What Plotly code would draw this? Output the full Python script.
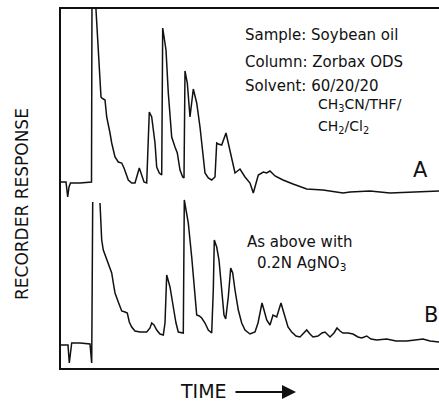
import plotly.graph_objects as go

# ---- data (time units ~ chart width, response units ~ chart height) ----
# Trace A (upper chromatogram) : recorder pen positions
A_PX = [61, 66, 67.7, 69, 70.5, 80, 91.5, 92, 96, 96, 101, 101.7, 105, 106.7, 110, 111.7, 115, 118.3, 121.7,
        124, 128.3, 131.7, 135, 139.3, 144, 146.7, 149.3, 151.7, 155, 156.7, 159.3, 161.7, 162.7, 164, 166,
        168.3, 171.7, 175, 177.3, 180, 182.7, 184, 185, 187.3, 190, 193.3, 196.7, 200, 203.3, 205, 208.3,
        211.7, 215, 216.7, 218.3, 221.7, 226, 228.3, 231.7, 235, 240, 245, 250, 253.3, 258.3, 263.3, 266.7,
        270, 275, 283, 293, 306.7, 323, 343, 350, 370, 390, 410, 440]
A_PY = [182, 182, 197, 187, 183, 183, 182, -5, -5, 10, 97, 98, 100, 117, 133, 143, 157, 162, 163,
        168, 180, 183, 183, 168, 182, 183, 112, 117, 143, 167, 173, 175, 28, 37, 50,
        93, 137, 147, 153, 170, 177, 178, 71, 83, 117, 89, 103, 127, 160, 173, 178,
        180, 177, 143, 144, 145, 133, 143, 160, 173, 169, 177, 183, 193, 175, 172, 173,
        171, 176, 180, 184, 189, 190, 193, 192, 191, 193, 192, 191]

# Trace B (lower chromatogram, with AgNO3)
B_PX = [61, 68, 69.3, 70.5, 71.7, 80, 90, 91.7, 92.7, None,
        100, 100.7, 101.7, 103.3, 106.7, 110, 111.7, 113.3, 115, 118.3, 120, 121.7, 125, 127.3, 129.3,
        131.7, 135, 140, 146.7, 150, 151.7, 154, 156.7, 160, 163.3, 165, 166.7, 168.3, 170, 173.3, 176,
        178.3, 181.7, 183.3, 184.3, 186, 188.3, 191.7, 194, 196.7, 199.3, 201.7, 205, 208.3, 211.7, 213.3,
        214.3, 216.7, 219, 221.7, 224, 225.7, 228.3, 230.7, 232.7, 235, 238.3, 241.7, 245, 250, 255, 258,
        262, 264, 266.7, 270, 273, 276.7, 281, 283, 285, 288, 291.7, 296, 300, 304, 306.7, 310, 313, 318,
        322, 325, 328, 330, 334, 337, 340, 343, 348, 353, 358, 361.7, 366.7, 371, 376.7, 386.7, 396,
        406.7, 415, 423, 430, 440]
B_PY = [345, 345, 363, 350, 343, 343, 344, 363, 202, None,
        203, 223, 240, 250, 260, 268, 273, 283, 293, 302, 307, 311, 312, 313, 322,
        327, 331, 332, 332, 328, 323, 325, 330, 334, 335, 323, 275, 280, 287, 307, 323,
        332, 333, 333, 200, 210, 223, 257, 283, 315, 316, 318, 323, 330, 333, 290,
        240, 247, 260, 290, 315, 319, 297, 268, 273, 290, 310, 323, 330, 334, 332, 323,
        303, 310, 320, 325, 315, 317, 303, 310, 317, 327, 332, 336, 337, 333, 330, 334, 337, 336,
        333, 332, 335, 337, 333, 328, 331, 333, 333, 334, 337, 338, 336, 339, 340, 339, 341,
        341, 340, 339, 341, 342]

X0, YB = 61, 368          # chart origin in the page
time_A = [p - X0 for p in A_PX]
resp_A = [YB - p for p in A_PY]
time_B = [None if p is None else p - X0 for p in B_PX]
resp_B = [None if p is None else YB - p for p in B_PY]

INK = "#111111"
FONT = "DejaVu Sans"

fig = go.Figure()
fig.add_trace(go.Scatter(x=time_A, y=resp_A, mode="lines",
                         line=dict(color=INK, width=1.5), hoverinfo="skip"))
fig.add_trace(go.Scatter(x=time_B, y=resp_B, mode="lines", connectgaps=False,
                         line=dict(color=INK, width=1.5), hoverinfo="skip"))

W, H = 439, 403
PL, PT, PB = 61, 9, 35
pw, ph = W - PL, H - PT - PB


def px(x):
    return (x - PL) / pw


def py(y):
    return (H - PB - y) / ph


def txt(s, x, y, size, anchor="left"):
    return dict(text=s, x=px(x), y=py(y), xref="paper", yref="paper",
                xanchor=anchor, yanchor="middle", showarrow=False,
                font=dict(family=FONT, size=size, color=INK))


ann = [
    txt("Sample: Soybean oil", 243, 35, 15),
    txt("Column: Zorbax ODS", 243, 62, 15),
    txt("Solvent: 60/20/20", 243, 86, 15),
    txt("CH<sub>3</sub>CN/THF/", 316, 105, 14),
    txt("CH<sub>2</sub>/Cl<sub>2</sub>", 316, 127, 14),
    txt("A", 420, 170, 21, "center"),
    txt("As above with", 245, 242, 15),
    txt("0.2N AgNO<sub>3</sub>", 255, 263, 15),
    txt("B", 431, 315, 21, "center"),
    txt("TIME", 203, 391, 19, "center"),
]
ann.append(dict(text="RECORDER RESPONSE", x=px(22), y=py(204), xref="paper", yref="paper",
                xanchor="center", yanchor="middle", textangle=-90, showarrow=False,
                font=dict(family=FONT, size=17, color=INK)))
ann.append(dict(text="", x=px(296), y=py(392), xref="paper", yref="paper",
                ax=-62, ay=0, axref="pixel", ayref="pixel", showarrow=True,
                arrowhead=2, arrowsize=1.4, arrowwidth=2, arrowcolor=INK))

fig.update_layout(
    width=W, height=H,
    margin=dict(l=PL, r=0, t=PT, b=PB, pad=0),
    paper_bgcolor="white", plot_bgcolor="white",
    showlegend=False,
    annotations=ann,
    xaxis=dict(range=[0, pw], showgrid=False, zeroline=False, showticklabels=False, ticks="",
               showline=True, linecolor=INK, linewidth=2, mirror=True, fixedrange=True),
    yaxis=dict(range=[0, ph], showgrid=False, zeroline=False, showticklabels=False, ticks="",
               showline=True, linecolor=INK, linewidth=2, mirror=False, fixedrange=True),
)

fig.write_html("out.html", config=dict(displayModeBar=False))
